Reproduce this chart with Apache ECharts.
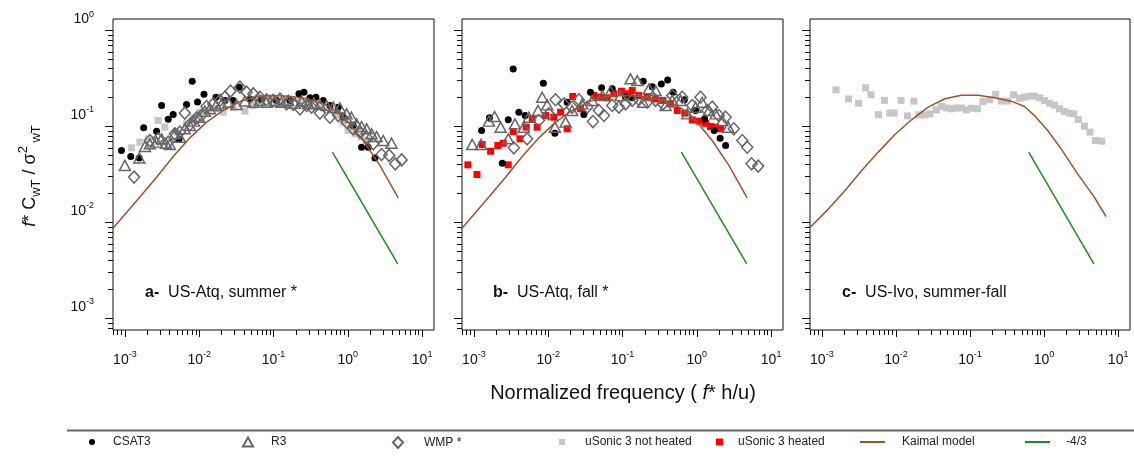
<!DOCTYPE html>
<html>
<head>
<meta charset="utf-8">
<script src="https://cdn.jsdelivr.net/npm/echarts@6/dist/echarts.min.js"></script>
<style>
  html, body { margin: 0; padding: 0; background: #fff; }
  #chart { width: 1134px; height: 457px; }
</style>
</head>
<body>
<div id="chart"></div>
<script>
// ---- data: [normalized frequency, f*Cwt/sigma^2] ----
const csat3A = [[0.0009,0.0562],[0.0012,0.0487],[0.00156,0.047],[0.00179,0.0968],[0.00267,0.0894],[0.00312,0.1655],[0.00383,0.1192],[0.00447,0.1334],[0.00534,0.0738],[0.00676,0.1695],[0.00805,0.296],[0.0095,0.1805],[0.0116,0.2173],[0.0168,0.202],[0.0222,0.187],[0.0287,0.187],[0.0346,0.257],[0.0481,0.194],[0.069,0.194],[0.11,0.187],[0.166,0.187],[0.22,0.219],[0.257,0.228],[0.309,0.199],[0.372,0.202],[0.467,0.187],[0.574,0.1655],[0.744,0.159],[0.868,0.125],[1.18,0.1024],[1.53,0.0609],[1.88,0.0609],[2.32,0.047]];
const r3A = [[0.001,0.0393],[0.00156,0.047],[0.00186,0.0619],[0.00217,0.066],[0.00267,0.0687],[0.00312,0.0744],[0.00357,0.067],[0.00403,0.065],[0.0047,0.0839],[0.0055,0.0774],[0.0064,0.0946],[0.0075,0.1024],[0.0085,0.1137],[0.01,0.125],[0.0119,0.1445],[0.0139,0.153],[0.0168,0.1655],[0.02,0.172],[0.0246,0.179],[0.0318,0.1695],[0.0412,0.184],[0.0534,0.179],[0.0656,0.187],[0.0807,0.179],[0.104,0.184],[0.128,0.179],[0.158,0.187],[0.194,0.175],[0.239,0.184],[0.294,0.172],[0.35,0.175],[0.421,0.1695],[0.518,0.1655],[0.637,0.159],[0.783,0.156],[0.962,0.1355],[1.12,0.125],[1.31,0.1066],[1.53,0.1],[1.79,0.0946],[2.09,0.0839],[2.44,0.0786],[3.0,0.0715],[3.88,0.067]];
const wmpA = [[0.00133,0.0297],[0.00217,0.0715],[0.0028,0.0744],[0.00383,0.0687],[0.0047,0.0839],[0.0055,0.0873],[0.0064,0.138],[0.0075,0.105],[0.0092,0.123],[0.0107,0.1302],[0.01256,0.1615],[0.01545,0.172],[0.019,0.187],[0.0222,0.202],[0.0264,0.2334],[0.0353,0.257],[0.0434,0.228],[0.0534,0.219],[0.0656,0.202],[0.0807,0.19],[0.099,0.187],[0.122,0.193],[0.15,0.172],[0.185,0.1695],[0.227,0.153],[0.279,0.1655],[0.325,0.159],[0.421,0.138],[0.574,0.125],[0.744,0.13],[0.962,0.111],[1.18,0.0946],[1.455,0.0873],[1.79,0.0774],[2.2,0.066],[2.85,0.0511],[3.6,0.05],[4.36,0.0409],[5.3,0.0449]];
const notHeatedA = [[0.00123,0.06],[0.00159,0.0687],[0.00206,0.0744],[0.0028,0.1155],[0.00345,0.0984],[0.00505,0.0873],[0.00676,0.1066],[0.0083,0.123],[0.0102,0.141],[0.0133,0.147],[0.01714,0.153],[0.021,0.141],[0.0287,0.159],[0.0412,0.1445],[0.0534,0.1655],[0.0656,0.179],[0.0895,0.187],[0.122,0.179],[0.166,0.172],[0.227,0.179],[0.309,0.172],[0.421,0.1655],[0.574,0.159],[0.744,0.13],[0.868,0.111],[1.01,0.0908],[1.25,0.0839],[1.53,0.0774],[1.79,0.0715]];

const csat3B = [[0.00066,0.1024],[0.00127,0.0908],[0.00162,0.1231],[0.00241,0.0415],[0.0029,0.1173],[0.00338,0.398],[0.00403,0.141],[0.0049,0.13],[0.0086,0.283],[0.0123,0.0852],[0.018,0.179],[0.0302,0.1334],[0.037,0.228],[0.0523,0.253],[0.0728,0.247],[0.11,0.202],[0.135,0.199],[0.19,0.296],[0.251,0.26],[0.333,0.278],[0.405,0.306],[0.48,0.228],[0.68,0.19],[0.962,0.147],[1.27,0.12],[1.71,0.0908],[2.06,0.0756],[2.44,0.0634]];
const r3B = [[0.00066,0.0645],[0.00095,0.065],[0.00125,0.065],[0.00159,0.1137],[0.0019,0.127],[0.00229,0.0984],[0.0029,0.0744],[0.00357,0.1066],[0.0047,0.0984],[0.0055,0.125],[0.0073,0.147],[0.0083,0.202],[0.0097,0.168],[0.0123,0.0984],[0.01714,0.111],[0.021,0.147],[0.0287,0.172],[0.0392,0.187],[0.0534,0.21],[0.069,0.233],[0.094,0.21],[0.128,0.314],[0.158,0.301],[0.189,0.179],[0.227,0.247],[0.279,0.237],[0.38,0.1655],[0.467,0.187],[0.605,0.187],[0.744,0.1355],[0.962,0.159],[1.18,0.179],[1.455,0.147],[1.79,0.1355],[2.2,0.1155],[2.65,0.0984]];
const wmpB = [[0.00345,0.06],[0.0052,0.0744],[0.0075,0.1155],[0.0102,0.1355],[0.01256,0.19],[0.0163,0.172],[0.021,0.159],[0.0259,0.19],[0.0335,0.159],[0.04,0.1127],[0.0481,0.147],[0.0563,0.1302],[0.0728,0.1655],[0.0895,0.159],[0.11,0.172],[0.135,0.187],[0.166,0.19],[0.215,0.179],[0.279,0.187],[0.35,0.172],[0.467,0.21],[0.637,0.202],[0.868,0.1655],[1.12,0.202],[1.38,0.147],[1.61,0.159],[1.98,0.13],[2.44,0.125],[3.15,0.0946],[4.09,0.0715],[4.77,0.0609],[5.46,0.0409],[6.7,0.0387]];
const heatedB = [[0.00083,0.0399],[0.0011,0.0316],[0.00129,0.065],[0.00168,0.0553],[0.0021,0.0634],[0.00248,0.067],[0.0029,0.0399],[0.00338,0.0887],[0.00417,0.0744],[0.00506,0.0984],[0.0061,0.1202],[0.0071,0.0984],[0.0092,0.13],[0.0119,0.125],[0.0147,0.141],[0.018,0.0946],[0.0214,0.2054],[0.0273,0.153],[0.0412,0.21],[0.0506,0.202],[0.0623,0.199],[0.0767,0.219],[0.0968,0.233],[0.116,0.219],[0.135,0.237],[0.166,0.21],[0.215,0.202],[0.279,0.194],[0.35,0.187],[0.443,0.172],[0.546,0.147],[0.69,0.138],[0.868,0.117],[1.07,0.1137],[1.31,0.108],[1.53,0.1],[1.79,0.0984],[2.09,0.0946]];

const notHeatedC = [[0.00155,0.241],[0.00229,0.194],[0.00312,0.175],[0.0039,0.253],[0.0046,0.214],[0.0058,0.133],[0.007,0.187],[0.0083,0.138],[0.0095,0.138],[0.0117,0.187],[0.0143,0.129],[0.0175,0.184],[0.0204,0.132],[0.0246,0.132],[0.0287,0.1355],[0.0353,0.149],[0.0413,0.162],[0.0481,0.156],[0.0563,0.153],[0.0656,0.156],[0.0767,0.156],[0.0895,0.149],[0.104,0.155],[0.126,0.153],[0.15,0.182],[0.185,0.19],[0.222,0.216],[0.265,0.184],[0.32,0.184],[0.388,0.214],[0.467,0.197],[0.545,0.202],[0.637,0.207],[0.74,0.207],[0.868,0.199],[1.01,0.187],[1.18,0.175],[1.38,0.167],[1.61,0.153],[1.88,0.143],[2.2,0.138],[2.52,0.1355],[2.9,0.118],[3.5,0.1008],[4.17,0.0873],[4.92,0.0715],[6.0,0.0704]];

const kaimalAB = [[0.000682,0.00859],[0.00158,0.01837],[0.00267,0.02965],[0.00447,0.0487],[0.0075,0.0762],[0.01259,0.111],[0.02104,0.147],[0.0353,0.182],[0.0592,0.204],[0.0895,0.21],[0.166,0.207],[0.279,0.1945],[0.467,0.172],[0.631,0.1528],[0.964,0.1155],[1.61,0.0715],[2.7,0.0393],[4.76,0.0181]];
const kaimalC = [[0.000697,0.00893],[0.00123,0.01387],[0.00206,0.0215],[0.00345,0.0348],[0.00578,0.0541],[0.0097,0.0826],[0.01626,0.1175],[0.0272,0.159],[0.0457,0.1945],[0.0766,0.212],[0.128,0.212],[0.215,0.199],[0.36,0.1837],[0.545,0.1614],[0.743,0.13],[1.12,0.0908],[1.7,0.0585],[2.84,0.0321],[4.76,0.0184],[6.86,0.01155]];
const slope43 = [[0.62,0.054],[4.7,0.0037]];

const xMajor = [1e-3, 1e-2, 1e-1, 1, 10];
const yMajor = [1e-3, 1e-2, 1e-1, 1];
const panelLabels = [['a-', 'US-Atq, summer *'], ['b-', 'US-Atq, fall *'], ['c-', 'US-Ivo, summer-fall']];

// ---- layout ----
const FONT = '"Liberation Sans", Arial, sans-serif';
const X_MIN = Math.pow(10, -3.16), X_MAX = Math.pow(10, 1.16);
const Y_MIN = Math.pow(10, -3.12), Y_MAX = Math.pow(10, 0.12);
const grids = [
  { left: 113, top: 19, width: 321, height: 311 },
  { left: 462, top: 19, width: 321, height: 311 },
  { left: 810, top: 19, width: 320, height: 311 }
];

function minorTicks(lo, hi) {
  const out = [];
  for (let e = -4; e <= 1; e++) {
    for (let m = 2; m <= 9; m++) {
      const v = m * Math.pow(10, e);
      if (v > lo && v < hi) out.push(v);
    }
  }
  return out;
}
const xMinor = minorTicks(X_MIN, X_MAX);
const yMinor = minorTicks(Y_MIN, Y_MAX);

const tickRich = {
  b: { fontSize: 14, lineHeight: 20, color: '#111', fontFamily: FONT },
  s: { fontSize: 9, lineHeight: 12, verticalAlign: 'top', color: '#111', fontFamily: FONT }
};
function powLabel(v) {
  return '{b|10}{s|' + Math.round(Math.log10(v)) + '}';
}

const xAxes = [], yAxes = [];
grids.forEach(function (g, i) {
  xAxes.push({
    gridIndex: i, type: 'log', min: X_MIN, max: X_MAX, position: 'bottom',
    axisLine: { show: false }, splitLine: { show: false },
    axisTick: { show: true, length: 7, customValues: xMajor, lineStyle: { color: '#111', width: 1 } },
    axisLabel: { show: true, customValues: xMajor, formatter: powLabel, rich: tickRich, margin: 20 }
  });
  xAxes.push({
    gridIndex: i, type: 'log', min: X_MIN, max: X_MAX, position: 'bottom',
    axisLine: { show: false }, splitLine: { show: false },
    axisTick: { show: true, length: 5, customValues: xMinor, lineStyle: { color: '#111', width: 1 } },
    axisLabel: { show: false }
  });
  yAxes.push({
    gridIndex: i, type: 'log', min: Y_MIN, max: Y_MAX, position: 'left',
    axisLine: { show: false }, splitLine: { show: false },
    axisTick: { show: true, length: 8, customValues: yMajor, lineStyle: { color: '#111', width: 1 } },
    axisLabel: { show: i === 0, customValues: yMajor, formatter: powLabel, rich: tickRich,
                 margin: 19, verticalAlign: 'middle', padding: [0, 0, 22, 0] }
  });
  yAxes.push({
    gridIndex: i, type: 'log', min: Y_MIN, max: Y_MAX, position: 'left',
    axisLine: { show: false }, splitLine: { show: false },
    axisTick: { show: true, length: 5, customValues: yMinor, lineStyle: { color: '#111', width: 1 } },
    axisLabel: { show: false }
  });
});

const styles = {
  'CSAT3': { symbol: 'circle', symbolSize: 7, itemStyle: { color: '#000', opacity: 1 } },
  'R3': { symbol: 'triangle', symbolSize: [11, 10], itemStyle: { color: 'rgba(255,255,255,0)', borderColor: '#666', borderWidth: 1.5, opacity: 1 } },
  'WMP *': { symbol: 'diamond', symbolSize: [11, 12], itemStyle: { color: 'rgba(255,255,255,0)', borderColor: '#666', borderWidth: 1.5, opacity: 1 } },
  'uSonic 3 not heated': { symbol: 'rect', symbolSize: 7, itemStyle: { color: '#c6c6c6', opacity: 1 } },
  'uSonic 3 heated': { symbol: 'rect', symbolSize: 7, itemStyle: { color: '#ff0000', opacity: 1 } }
};
function scatter(name, data, g) {
  return Object.assign({ type: 'scatter', name: name, data: data, xAxisIndex: 2 * g, yAxisIndex: 2 * g }, styles[name]);
}
function line(name, data, g, color) {
  return { type: 'line', name: name, data: data, xAxisIndex: 2 * g, yAxisIndex: 2 * g, symbol: 'none',
           lineStyle: { color: color, width: 1.5 }, itemStyle: { color: color }, z: 3 };
}
const BROWN = '#a0522d', GREEN = '#1f8a1f';

const series = [
  scatter('uSonic 3 not heated', notHeatedA, 0),
  scatter('CSAT3', csat3A, 0),
  scatter('R3', r3A, 0),
  scatter('WMP *', wmpA, 0),
  line('Kaimal model', kaimalAB, 0, BROWN),
  line('-4/3', slope43, 0, GREEN),

  scatter('uSonic 3 heated', heatedB, 1),
  scatter('CSAT3', csat3B, 1),
  scatter('R3', r3B, 1),
  scatter('WMP *', wmpB, 1),
  line('Kaimal model', kaimalAB, 1, BROWN),
  line('-4/3', slope43, 1, GREEN),

  scatter('uSonic 3 not heated', notHeatedC, 2),
  line('Kaimal model', kaimalC, 2, BROWN),
  line('-4/3', slope43, 2, GREEN)
];

// legend entries: name, left, icon width, icon height, text gap, icon
const legendItems = [
  ['CSAT3', 89, 6, 6, 13, null],
  ['R3', 242, 10, 9, 13, null],
  ['WMP *', 392, 10, 11, 16, null],
  ['uSonic 3 not heated', 559, 6, 6, 15, null],
  ['uSonic 3 heated', 716, 7, 7, 10, null],
  ['Kaimal model', 860, 25, 2, 12, 'rect'],
  ['-4/3', 1025, 25, 2, 11, 'rect']
];
const legends = legendItems.map(function (it) {
  const lg = {
    data: [it[0]], left: it[1], top: 436, itemWidth: it[2], itemHeight: it[3],
    selectedMode: false, padding: 0,
    textStyle: { fontSize: 12, color: '#222', fontFamily: FONT, padding: [0, 0, 0, it[4]] }
  };
  if (it[5]) lg.icon = it[5];
  return lg;
});

const graphics = [
  { type: 'line', shape: { x1: 67, y1: 430.5, x2: 1134, y2: 430.5 }, style: { stroke: '#666', lineWidth: 2 } },
  { type: 'text', x: 30, y: 176, rotation: Math.PI / 2,
    style: { text: '{i|f}{n|* C}{sb|wT}{n| / σ}{sp|2}{sb| wT}', align: 'center', verticalAlign: 'middle',
      rich: {
        i: { fontSize: 18, fontStyle: 'italic', lineHeight: 26, fontFamily: FONT, fill: '#111' },
        n: { fontSize: 18, lineHeight: 26, fontFamily: FONT, fill: '#111' },
        sb: { fontSize: 13, lineHeight: 19, verticalAlign: 'bottom', fontFamily: FONT, fill: '#111' },
        sp: { fontSize: 13, lineHeight: 16, verticalAlign: 'top', fontFamily: FONT, fill: '#111' }
      } } },
  { type: 'text', x: 623, y: 393,
    style: { text: '{n|Normalized frequency ( }{i|f}{n|* h/u)}', align: 'center', verticalAlign: 'middle',
      rich: {
        i: { fontSize: 20, fontStyle: 'italic', fontFamily: FONT, fill: '#111' },
        n: { fontSize: 20, fontFamily: FONT, fill: '#111' }
      } } }
];
const labelX = [145, 493, 842];
panelLabels.forEach(function (p, i) {
  graphics.push({ type: 'text', x: labelX[i], y: 293,
    style: { text: '{b|' + p[0] + '}{n|  ' + p[1] + '}', align: 'left', verticalAlign: 'middle',
      rich: {
        b: { fontSize: 16, fontWeight: 'bold', fontFamily: FONT, fill: '#111' },
        n: { fontSize: 16, fontFamily: FONT, fill: '#111' }
      } } });
});

const chart = echarts.init(document.getElementById('chart'), null, { renderer: 'canvas' });
chart.setOption({
  animation: false,
  backgroundColor: '#fff',
  grid: grids.map(function (g) {
    return Object.assign({ show: true, borderColor: '#111', borderWidth: 1, backgroundColor: 'transparent' }, g);
  }),
  xAxis: xAxes,
  yAxis: yAxes,
  legend: legends,
  series: series,
  graphic: graphics
});
</script>
</body>
</html>
